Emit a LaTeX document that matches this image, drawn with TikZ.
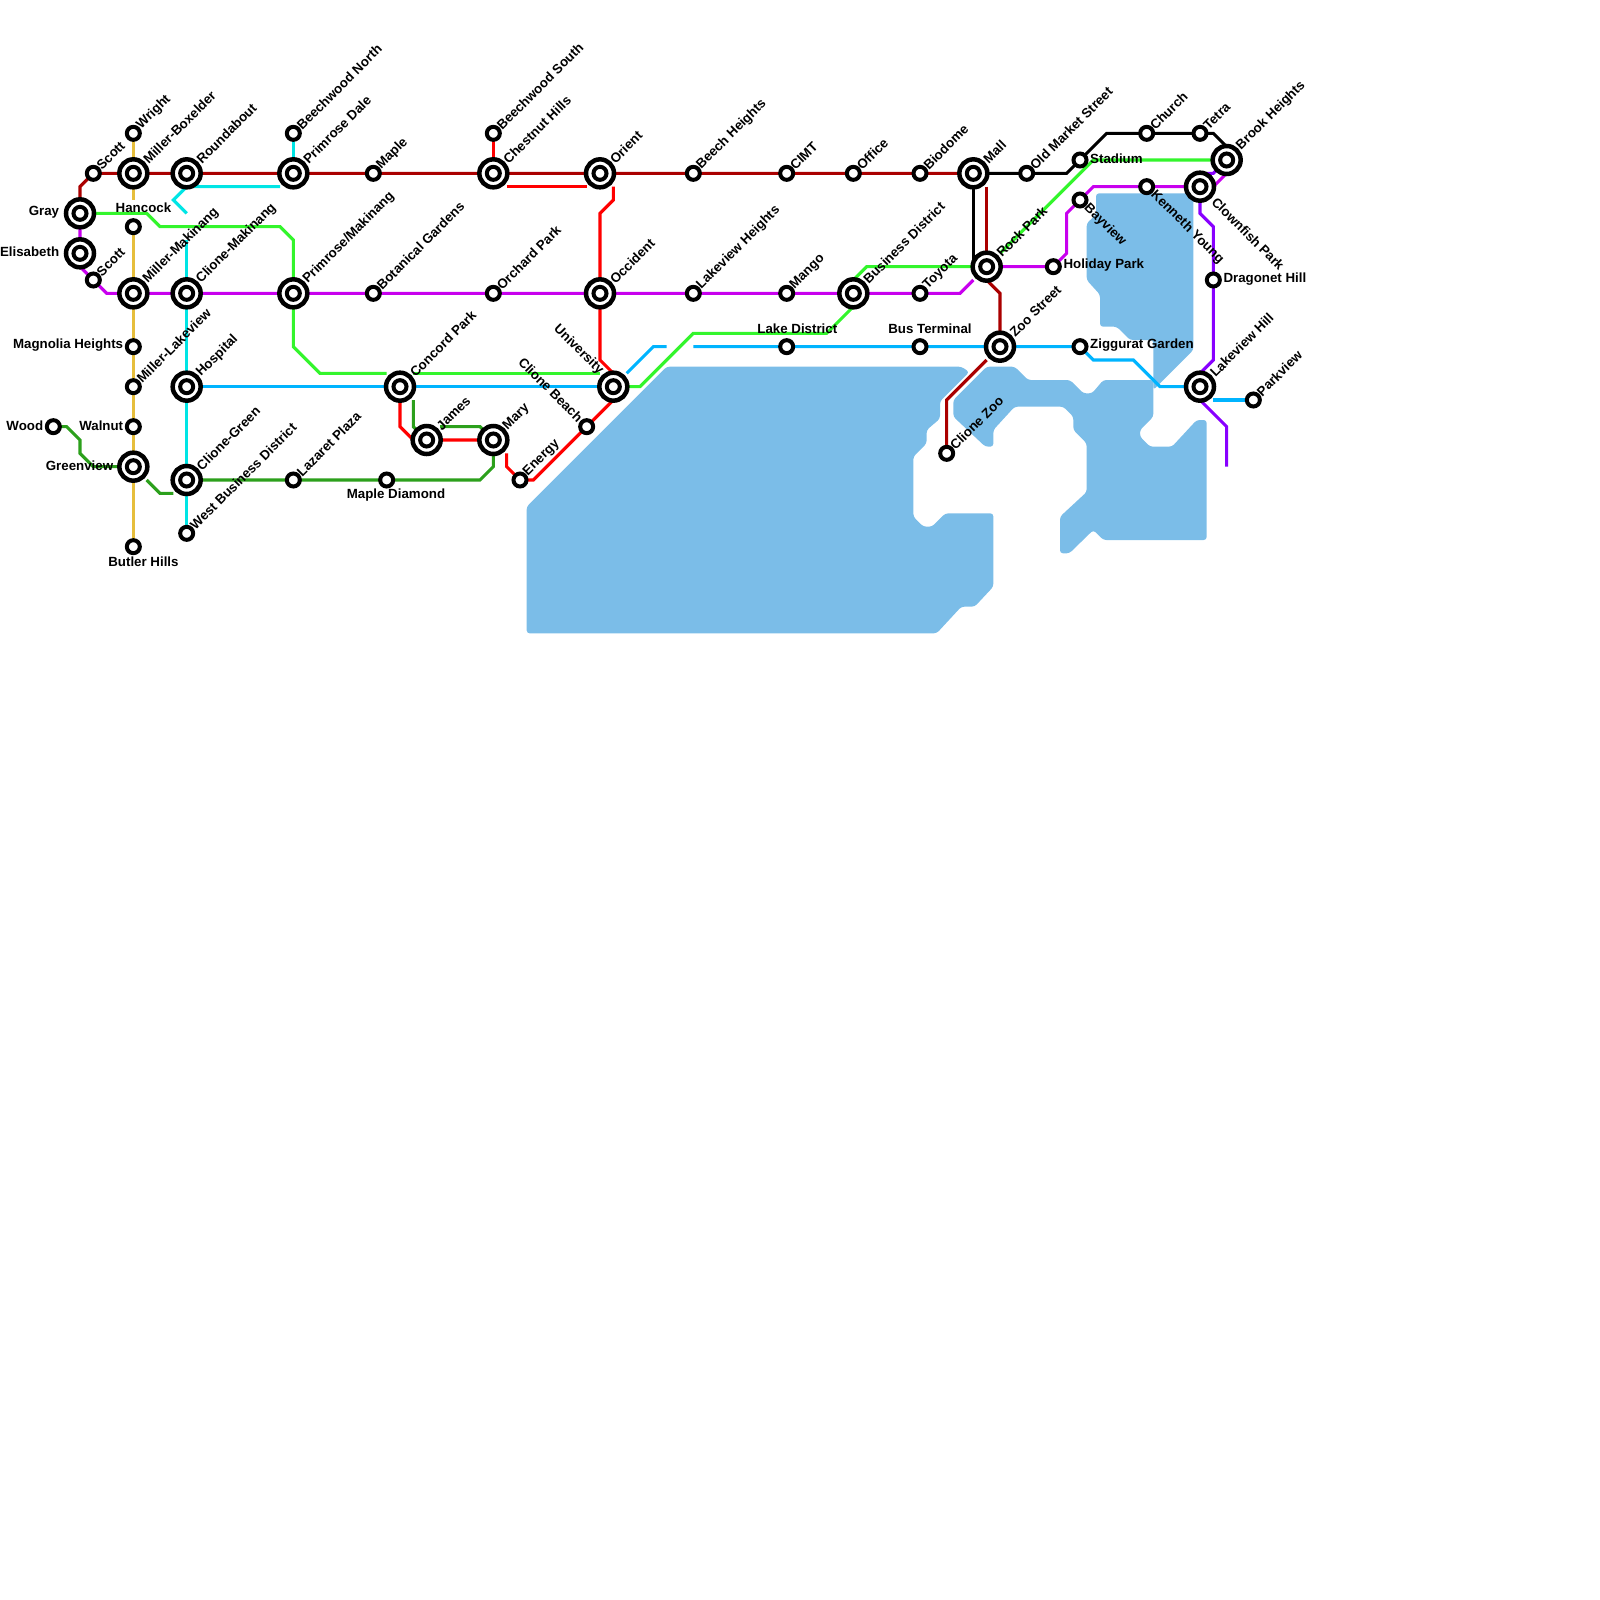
\documentclass[tikz,border=0pt]{standalone}
\usepackage{fontspec}
\setmainfont{Liberation Sans}
\usetikzlibrary{backgrounds}
\definecolor{cDR}{HTML}{AA0000}
\definecolor{cRD}{HTML}{FF0000}
\definecolor{cGN}{HTML}{33F52C}
\definecolor{cMG}{HTML}{C800EE}
\definecolor{cVI}{HTML}{8800FF}
\definecolor{cYL}{HTML}{E6BE3C}
\definecolor{cCY}{HTML}{00E5E5}
\definecolor{cDG}{HTML}{2CA01C}
\definecolor{cBL}{HTML}{00B4FF}
\definecolor{cSEA}{HTML}{7BBDE8}
\tikzset{
  sta/.style={circle,draw=black,fill=white,line width=4pt,minimum size=13pt,inner sep=0pt},
  hub/.style={circle,draw=black,fill=white,line width=4.5pt,minimum size=28pt,inner sep=0pt,label={[sta]center:{}}},
  txt/.style={inner sep=0pt,font=\fontsize{13.3}{15}\selectfont\bfseries,text=black},
  sl/.style={txt,xshift=5.5pt,yshift=6pt,rotate=45,anchor=west},
  hl/.style={txt,xshift=12pt,yshift=12pt,rotate=45,anchor=west},
  dl/.style={txt,xshift=6pt,yshift=-6pt,rotate=-45,anchor=west},
  dhl/.style={txt,xshift=14pt,yshift=-13pt,rotate=-45,anchor=west},
  ul/.style={txt,xshift=-6pt,yshift=7pt,rotate=-45,anchor=east},
  uhl/.style={txt,xshift=-12pt,yshift=14pt,rotate=-45,anchor=east},
  ln/.style={line width=3.1pt,line join=miter,line cap=butt},
  seaf/.style={fill=cSEA,draw=none,rounded corners=3pt},
}
\begin{document}
\begin{tikzpicture}[x=13.3333pt,y=-13.3333pt]
\useasboundingbox (0,0) rectangle (120,120);
% stations
\node[sta] (wood) at (4,32) {};
\node[hub] (gray) at (6,16) {};
\node[hub] (elis) at (6,19) {};
\node[sta] (scotta) at (7,13) {};
\node[sta] (scottb) at (7,21) {};
\node[sta] (wright) at (10,10) {};
\node[hub] (millerbox) at (10,13) {};
\node[sta] (hancock) at (10,17) {};
\node[hub] (millermak) at (10,22) {};
\node[sta] (magnolia) at (10,26) {};
\node[sta] (millerlake) at (10,29) {};
\node[sta] (walnut) at (10,32) {};
\node[hub] (greenview) at (10,35) {};
\node[sta] (butler) at (10,41) {};
\node[hub] (roundabout) at (14,13) {};
\node[hub] (clionemak) at (14,22) {};
\node[hub] (hospital) at (14,29) {};
\node[hub] (clionegreen) at (14,36) {};
\node[sta] (westbiz) at (14,40) {};
\node[sta] (beechn) at (22,10) {};
\node[hub] (primdale) at (22,13) {};
\node[hub] (primmak) at (22,22) {};
\node[sta] (lazaret) at (22,36) {};
\node[sta] (maple) at (28,13) {};
\node[sta] (botanical) at (28,22) {};
\node[sta] (maplediamond) at (29,36) {};
\node[hub] (concord) at (30,29) {};
\node[hub] (james) at (32,33) {};
\node[sta] (beechs) at (37,10) {};
\node[hub] (chestnut) at (37,13) {};
\node[sta] (orchard) at (37,22) {};
\node[hub] (mary) at (37,33) {};
\node[sta] (energy) at (39,36) {};
\node[sta] (clionebeach) at (44,32) {};
\node[hub] (orient) at (45,13) {};
\node[hub] (occident) at (45,22) {};
\node[hub] (university) at (46,29) {};
\node[sta] (beechh) at (52,13) {};
\node[sta] (lakeh) at (52,22) {};
\node[sta] (cimt) at (59,13) {};
\node[sta] (mango) at (59,22) {};
\node[sta] (lakedist) at (59,26) {};
\node[sta] (office) at (64,13) {};
\node[hub] (bizdist) at (64,22) {};
\node[sta] (biodome) at (69,13) {};
\node[sta] (toyota) at (69,22) {};
\node[sta] (busterm) at (69,26) {};
\node[sta] (clionezoo) at (71,34) {};
\node[hub] (mall) at (73,13) {};
\node[hub] (rockpark) at (74,20) {};
\node[hub] (zoo) at (75,26) {};
\node[sta] (oldmarket) at (77,13) {};
\node[sta] (holiday) at (79,20) {};
\node[sta] (stadium) at (81,12) {};
\node[sta] (bayview) at (81,15) {};
\node[sta] (ziggurat) at (81,26) {};
\node[sta] (church) at (86,10) {};
\node[sta] (kenneth) at (86,14) {};
\node[sta] (tetra) at (90,10) {};
\node[hub] (clownfish) at (90,14) {};
\node[hub] (lakehill) at (90,29) {};
\node[sta] (dragonet) at (91,21) {};
\node[hub] (brook) at (92,12) {};
\node[sta] (parkview) at (94,30) {};
% labels, 45 degrees
\node[sl] (l1) at (scotta) {Scott};
\node[sl] (l2) at (scottb) {Scott};
\node[sl] (l3) at (wright) {Wright};
\node[hl] (l4) at (millerbox) {Miller-Boxelder};
\node[hl] (l5) at (millermak) {Miller-Makinang};
\node[sl] (l6) at (millerlake) {Miller-Lakeview};
\node[hl] (l7) at (roundabout) {Roundabout};
\node[hl] (l8) at (clionemak) {Clione-Makinang};
\node[hl] (l9) at (hospital) {Hospital};
\node[hl] (l10) at (clionegreen) {Clione-Green};
\node[sl] (l11) at (westbiz) {West Business District};
\node[sl] (l12) at (beechn) {Beechwood North};
\node[hl] (l13) at (primdale) {Primrose Dale};
\node[hl] (l14) at (primmak) {Primrose/Makinang};
\node[sl] (l15) at (lazaret) {Lazaret Plaza};
\node[sl] (l16) at (maple) {Maple};
\node[sl] (l17) at (botanical) {Botanical Gardens};
\node[hl] (l18) at (concord) {Concord Park};
\node[hl] (l19) at (james) {James};
\node[sl] (l20) at (beechs) {Beechwood South};
\node[hl] (l21) at (chestnut) {Chestnut Hills};
\node[sl] (l22) at (orchard) {Orchard Park};
\node[hl] (l23) at (mary) {Mary};
\node[sl] (l24) at (energy) {Energy};
\node[hl] (l25) at (orient) {Orient};
\node[hl] (l26) at (occident) {Occident};
\node[sl] (l27) at (beechh) {Beech Heights};
\node[sl] (l28) at (lakeh) {Lakeview Heights};
\node[sl] (l29) at (cimt) {CIMT};
\node[sl] (l30) at (mango) {Mango};
\node[sl] (l31) at (office) {Office};
\node[hl] (l32) at (bizdist) {Business District};
\node[sl] (l33) at (biodome) {Biodome};
\node[sl] (l34) at (toyota) {Toyota};
\node[sl] (l35) at (clionezoo) {Clione Zoo};
\node[hl] (l36) at (mall) {Mall};
\node[hl] (l37) at (rockpark) {Rock Park};
\node[hl] (l38) at (zoo) {Zoo Street};
\node[sl] (l39) at (oldmarket) {Old Market Street};
\node[sl] (l40) at (church) {Church};
\node[sl] (l41) at (tetra) {Tetra};
\node[hl] (l42) at (lakehill) {Lakeview Hill};
\node[hl] (l43) at (brook) {Brook Heights};
\node[sl] (l44) at (parkview) {Parkview};
% labels, -45 degrees
\node[dl] (l45) at (bayview) {Bayview};
\node[dl] (l46) at (kenneth) {Kenneth Young};
\node[dhl] (l47) at (clownfish) {Clownfish Park};
\node[ul] (l48) at (clionebeach) {Clione Beach};
\node[uhl] (l49) at (university) {University};
% horizontal labels
\node[txt,anchor=east] (l50) at (4.45,15.9) {Gray};
\node[txt,anchor=east] (l51) at (4.45,18.9) {Elisabeth};
\node[txt] (l52) at (10.76,15.6) {Hancock};
\node[txt,anchor=east] (l53) at (9.25,25.9) {Magnolia Heights};
\node[txt,anchor=east] (l54) at (9.25,31.9) {Walnut};
\node[txt,anchor=east] (l55) at (3.25,31.9) {Wood};
\node[txt,anchor=east] (l56) at (8.5,34.9) {Greenview};
\node[txt] (l57) at (10.76,42.15) {Butler Hills};
\node[txt] (l58) at (29.7,37.15) {Maple Diamond};
\node[txt] (l59) at (59.8,24.65) {Lake District};
\node[txt] (l60) at (69.75,24.65) {Bus Terminal};
\node[txt,anchor=west] (l61) at (81.75,11.9) {Stadium};
\node[txt,anchor=west] (l62) at (79.75,19.9) {Holiday Park};
\node[txt,anchor=west] (l63) at (81.75,25.9) {Ziggurat Garden};
\node[txt,anchor=west] (l64) at (91.75,20.9) {Dragonet Hill};
% free ends of connectors
\coordinate (yA) at (10,15);
\coordinate (cA) at (14,16);
\coordinate (cB) at (14,18);
\coordinate (cC) at (21,14);
\coordinate (rA) at (38,14);
\coordinate (rB) at (44,14);
\coordinate (rC) at (46,14);
\coordinate (rD) at (38,34);
\coordinate (gA) at (29,28);
\coordinate (gB) at (31,28);
\coordinate (gC) at (45,28);
\coordinate (gD) at (62,25);
\coordinate (gE) at (73,20);
\coordinate (gF) at (75,19);
\coordinate (bA) at (47,28);
\coordinate (bB) at (50,26);
\coordinate (bC) at (52,26);
\coordinate (bD) at (91,30);
\coordinate (dA) at (74,14);
\coordinate (dB) at (74,27);
\coordinate (kA) at (73,19.5);
\coordinate (mA) at (91,14);
\coordinate (mB) at (92,13);
\coordinate (vA) at (92,35);
\coordinate (vB) at (90.5,13);
\begin{pgfonlayer}{background}
% water
\fill[seaf] (39.5,38) -- (50,27.5) -- (72.1,27.5) -- (72.7,27.9) -- (70.5,30.1) -- (70.5,31.4) -- (69.5,32.25) -- (69.5,33.25) -- (68.5,34.25) -- (68.5,38.75) -- (69.25,39.5) -- (69.9,39.5) -- (70.9,38.5) -- (74.5,38.5) -- (74.5,44) -- (73.1,45.5) -- (72.1,45.5) -- (70.25,47.5) -- (39.5,47.5) -- cycle;
\fill[seaf] (71.5,30) -- (74,27.5) -- (76.1,27.5) -- (77.1,28.5) -- (80.25,28.5) -- (81.25,29.5) -- (81.9,29.5) -- (82.75,28.5) -- (86.5,28.5) -- (86.5,31.25) -- (85.5,32.25) -- (85.5,32.75) -- (86.25,33.5) -- (87.9,33.5) -- (89.75,31.5) -- (90.5,31.5) -- (90.5,40.5) -- (82.75,40.5) -- (82,39.75) -- (80.2,41.5) -- (79.5,41.5) -- (79.5,38.75) -- (81.5,36.9) -- (81.5,33.25) -- (80.5,32.25) -- (80.5,31.25) -- (79.75,30.5) -- (76.1,30.5) -- (74.5,32.25) -- (74.5,33.5) -- (73.9,33.5) -- (71.5,31.25) -- cycle;
\fill[seaf] (82.2,14.5) -- (89.5,14.5) -- (89.5,26.25) -- (86.5,29.25) -- (86.5,25.5) -- (84.75,25.5) -- (83.75,24.5) -- (82.5,24.5) -- (82.5,22.1) -- (81.5,21) -- (81.5,16.75) -- (82.2,16.1) -- cycle;
% lines
\draw[ln,cYL] (wright.center) -- (yA);
\draw[ln,cYL] (hancock.center) -- (butler.center);
\draw[ln,cDR] (gray.center) -- (6,14) -- (scotta.center) -- (mall.center);
\draw[ln,cDR] (dA) -- (rockpark.center);
\draw[ln,cDR] (rockpark.center) -- (74,21) -- (75,22) -- (zoo.center);
\draw[ln,cDR] (dB) -- (71,30) -- (clionezoo.center);
\draw[ln,cMG] (gray.center) -- (elis.center) -- (6,20) -- (8,22) -- (72,22) -- (73,21);
\draw[ln,cMG] (rockpark.center) -- (holiday.center) -- (80,19) -- (80,16) -- (bayview.center) -- (82,14) -- (clownfish.center);
\draw[ln,cMG] (mA) -- (mB);
\draw[ln,cVI] (vB) -- (91,13) -- (brook.center);
\draw[ln,cVI] (clownfish.center) -- (90,16) -- (91,17) -- (91,27) -- (90,28) -- (lakehill.center) -- (90,30) -- (92,32) -- (vA);
\draw[ln,cCY] (beechn.center) -- (primdale.center);
\draw[ln,cCY] (cC) -- (15,14) -- (14,14) -- (13,15) -- (cA);
\draw[ln,cCY] (cB) -- (westbiz.center);
\draw[ln,cGN] (gray.center) -- (11,16) -- (12,17) -- (21,17) -- (22,18) -- (22,26) -- (24,28) -- (gA);
\draw[ln,cGN] (gB) -- (gC);
\draw[ln,cGN] (university.center) -- (48,29) -- (52,25) -- (gD) -- (64,23);
\draw[ln,cGN] (64,21) -- (65,20) -- (gE);
\draw[ln,cGN] (gF) -- (82,12) -- (brook.center);
\draw[ln,black] (mall.center) -- (80,13) -- (stadium.center) -- (83,10) -- (91,10) -- (92,11) -- (brook.center);
\draw[ln,black] (mall.center) -- (kA);
\draw[ln,cRD] (beechs.center) -- (chestnut.center);
\draw[ln,cRD] (rA) -- (rB);
\draw[ln,cRD] (rC) -- (46,15) -- (45,16) -- (45,27) -- (46,28) -- (university.center);
\draw[ln,cRD] (university.center) -- (46,30) -- (40,36) -- (energy.center) -- (38,35) -- (rD);
\draw[ln,cRD] (mary.center) -- (31,33) -- (30,32) -- (concord.center);
\draw[ln,cDG] (wood.center) -- (5,32) -- (6,33) -- (6,34) -- (7,35) -- (greenview.center);
\draw[ln,cDG] (11,36) -- (12,37) -- (13,37);
\draw[ln,cDG] (clionegreen.center) -- (36,36) -- (37,35) -- (mary.center);
\draw[ln,cDG] (31,30) -- (31,32) -- (james.center);
\draw[ln,cDG] (33,32) -- (36,32) -- (mary.center);
\draw[ln,cBL] (hospital.center) -- (university.center);
\draw[ln,cBL] (bA) -- (49,26) -- (bB);
\draw[ln,cBL] (bC) -- (ziggurat.center) -- (82,27) -- (85,27) -- (87,29) -- (lakehill.center);
\draw[ln,cBL] (bD) -- (parkview.center);
\end{pgfonlayer}
\end{tikzpicture}
\end{document}
